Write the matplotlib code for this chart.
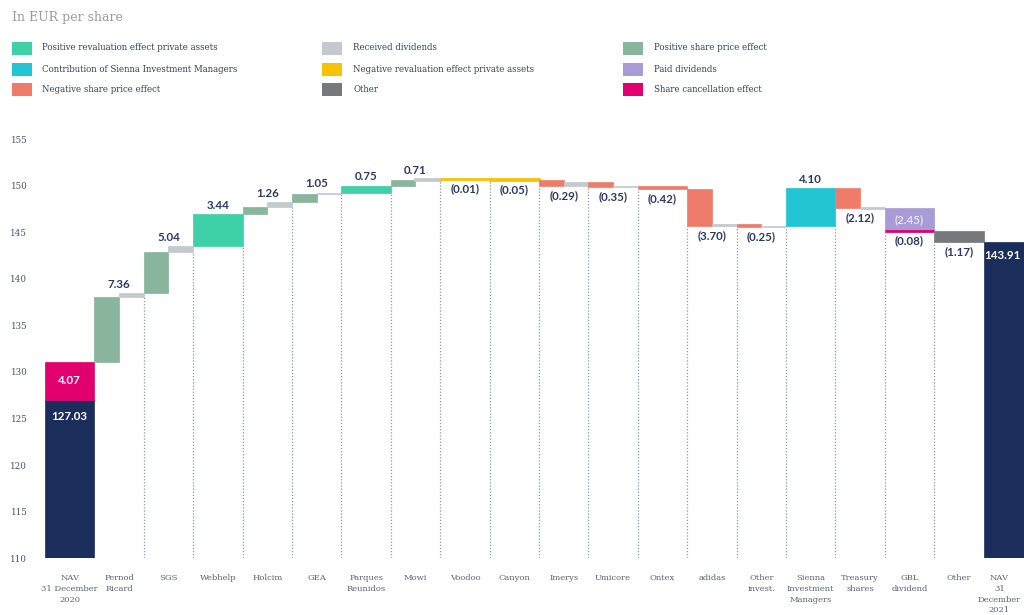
import matplotlib
matplotlib.use("Agg")
import matplotlib.pyplot as plt
from matplotlib.patches import Rectangle
import matplotlib.transforms as mtransforms

# ---------------- data ----------------
categories = ["NAV\n31 December\n2020", "Pernod\nRicard", "SGS", "Webhelp", "Holcim", "GEA",
              "Parques\nReunidos", "Mowi", "Voodoo", "Canyon", "Imerys", "Umicore", "Ontex",
              "adidas", "Other\ninvest.", "Sienna\nInvestment\nManagers", "Treasury\nshares",
              "GBL\ndividend", "Other", "NAV\n31\nDecember\n2021"]
# main effect per category (NAV values are absolute levels)
main_effect = [127.03, 6.90, 4.44, 3.44, 0.80, 0.95, 0.75, 0.65, -0.01, -0.05, -0.70, -0.47,
               -0.42, -3.88, -0.35, 4.10, -2.12, -2.45, -1.17, 143.91]
# received dividends part (None = no separate dividend bar)
dividend_effect = [None, 0.46, 0.60, None, 0.46, 0.10, None, 0.06, None, None, 0.41, 0.12,
                   None, 0.18, 0.10, None, 0.00, None, None, None]
# share cancellation effect stacked in the category
cancellation_effect = [4.07, 0, 0, 0, 0, 0, 0, 0, 0, 0, 0, 0, 0, 0, 0, 0, 0, -0.08, 0, 0]
effect_type = ["nav", "share_pos", "share_pos", "private_pos", "share_pos", "share_pos",
               "private_pos", "share_pos", "private_neg", "private_neg", "share_neg", "share_neg",
               "share_neg", "share_neg", "share_neg", "sienna", "share_neg", "paid_div", "other", "nav"]
y_ticks = [110, 115, 120, 125, 130, 135, 140, 145, 150, 155]

legend_rows = [
    [("Positive revaluation effect private assets", "private_pos"),
     ("Received dividends", "dividend"),
     ("Positive share price effect", "share_pos")],
    [("Contribution of Sienna Investment Managers", "sienna"),
     ("Negative revaluation effect private assets", "private_neg"),
     ("Paid dividends", "paid_div")],
    [("Negative share price effect", "share_neg"),
     ("Other", "other"),
     ("Share cancellation effect", "cancel")],
]

colors = {
    "nav": "#1b2d5a",
    "share_pos": "#88b59c",
    "private_pos": "#3ed0a6",
    "private_neg": "#f7c300",
    "share_neg": "#ef7c6b",
    "sienna": "#21c5d4",
    "paid_div": "#a99bd6",
    "other": "#76787c",
    "dividend": "#c3c9cf",
    "cancel": "#e2006f",
}
label_color = "#2b3a64"
text_grey = "#4a5470"

# ---------------- figure geometry ----------------
W, H = 1024, 615
fig = plt.figure(figsize=(W / 100, H / 100), dpi=100)
slot_w = 49.4
x0_px = 45.0
ax_left_px, ax_right_px = 30.0, 1060.0
y_bottom_px, px_per_unit = 558.4, 9.32
ymin, ymax = 110, 156
ax = fig.add_axes([ax_left_px / W, (H - y_bottom_px) / H,
                   (ax_right_px - ax_left_px) / W, (ymax - ymin) * px_per_unit / H])
ax.set_xlim(-0.5 - (x0_px - ax_left_px) / slot_w, -0.5 + (ax_right_px - x0_px) / slot_w)
ax.set_ylim(ymin, ymax)
for s in ax.spines.values():
    s.set_visible(False)

# x position (data) whose pixel is 1021: used to keep texts of the clipped last slot inside
x_edge = -0.5 + (1021 - x0_px) / slot_w


def fmt(v):
    return f"{v:.2f}" if v >= 0 else f"({abs(v):.2f})"


def draw_bar(x_left, width, bottom, height, color):
    lw = 2.0 if abs(height) < 0.1 else 0.5
    ax.add_patch(Rectangle((x_left, bottom), width, height, facecolor=color,
                           edgecolor=color, linewidth=lw, zorder=3))


level = 0.0
slot_bottoms = []
n = len(categories)
for i, kind in enumerate(effect_type):
    segs = []
    if kind == "nav":
        level = main_effect[i]
        draw_bar(i - 0.5, 1.0, 0, level, colors["nav"])
        if cancellation_effect[i]:
            c = cancellation_effect[i]
            draw_bar(i - 0.5, 1.0, level, c, colors["cancel"])
            ax.text(i, level + c / 2, fmt(c), ha="center", va="center", color="white",
                    fontsize=8.3, fontweight="bold", family="Lato", zorder=5)
            ax.annotate(fmt(level), (i, level), xytext=(0, -8.5), textcoords="offset points",
                        ha="center", va="top", color="white", fontsize=8.3,
                        fontweight="bold", family="Lato", zorder=5)
            level += c
        else:
            xi, ha = (x_edge, "right") if i == n - 1 else (i, "center")
            ax.annotate(fmt(level), (xi, level), xytext=(0, -5.5), textcoords="offset points",
                        ha=ha, va="top", color="white", fontsize=8.3,
                        fontweight="bold", family="Lato", zorder=5)
        slot_bottoms.append((ymin, ymin))
        continue

    start = level
    m = main_effect[i]
    d = dividend_effect[i]
    if d is None:
        draw_bar(i - 0.5, 1.0, level, m, colors[kind])
        segs.append(min(level, level + m))
        level += m
    else:
        draw_bar(i - 0.5, 0.5, level, m, colors[kind])
        segs.append(min(level, level + m))
        level += m
        draw_bar(i, 0.5, level, d, colors["dividend"])
        segs.append(min(level, level + d))
        level += d
    total = m + (d or 0)
    c = cancellation_effect[i]
    if c:
        draw_bar(i - 0.5, 1.0, level, c, colors["cancel"])
        segs.append(min(level, level + c))
        level += c
    slot_bottoms.append((segs[0], segs[-1]))
    top = max(start, level, start + m)
    bottom = min(segs)

    if kind == "paid_div":
        ax.text(i, start + m / 2, fmt(m), ha="center", va="center", color="#e6e2f5",
                fontsize=8.3, fontweight="bold", family="Lato", zorder=5)
        ax.annotate(fmt(c), (i, bottom), xytext=(0, -3), textcoords="offset points",
                    ha="center", va="top", color=label_color, fontsize=8.3,
                    fontweight="bold", family="Lato", zorder=5)
    elif total >= 0:
        ax.annotate(fmt(total), (i, top), xytext=(0, 2.5), textcoords="offset points",
                    ha="center", va="bottom", color=label_color, fontsize=8.3,
                    fontweight="bold", family="Lato", zorder=5)
    else:
        ax.annotate(fmt(total), (i, bottom), xytext=(0, -3), textcoords="offset points",
                    ha="center", va="top", color=label_color, fontsize=8.3,
                    fontweight="bold", family="Lato", zorder=5)

# dotted separators
for k in range(1, n - 1):
    h = min(slot_bottoms[k][1], slot_bottoms[k + 1][0])
    ax.plot([k + 0.5, k + 0.5], [ymin, h], linestyle=(0, (1, 1.5)), color="#8e96a2",
            linewidth=0.9, zorder=1)

# y axis ticks
ax.set_yticks(y_ticks)
ax.set_yticklabels([str(t) for t in y_ticks], family="DejaVu Serif", fontsize=6.3,
                   color=text_grey)
ax.tick_params(axis="y", length=0, pad=2)
ax.set_xticks([])

# category labels below the bars
base = mtransforms.blended_transform_factory(ax.transData, ax.transAxes)
lab_tr = base + mtransforms.ScaledTranslation(0, -16 / 100, fig.dpi_scale_trans)
for i, cat in enumerate(categories):
    xi, ha = (x_edge, "right") if i == n - 1 else (i, "center")
    ax.text(xi, 0, cat, transform=lab_tr, ha=ha, va="top", multialignment="center",
            family="DejaVu Serif", fontsize=6.0, color="#5a6178", linespacing=1.45,
            clip_on=False)

# title
fig.text(12 / W, 1 - 18 / H, "In EUR per share", family="DejaVu Serif", fontsize=9,
         color="#9b9b9b", ha="left", va="center")

# legend
col_patch_x = [12, 322, 623]
col_text_x = [42, 353, 654]
row_y = [48, 69, 89]
for r, row in enumerate(legend_rows):
    for c, (txt, key) in enumerate(row):
        fig.patches.append(Rectangle((col_patch_x[c] / W, 1 - (row_y[r] + 6.5) / H),
                                     20 / W, 13 / H, facecolor=colors[key],
                                     edgecolor="none", transform=fig.transFigure,
                                     figure=fig))
        fig.text(col_text_x[c] / W, 1 - row_y[r] / H, txt, family="DejaVu Serif",
                 fontsize=6.2, color="#34405f", ha="left", va="center")

fig.savefig("out.png", dpi=100)
